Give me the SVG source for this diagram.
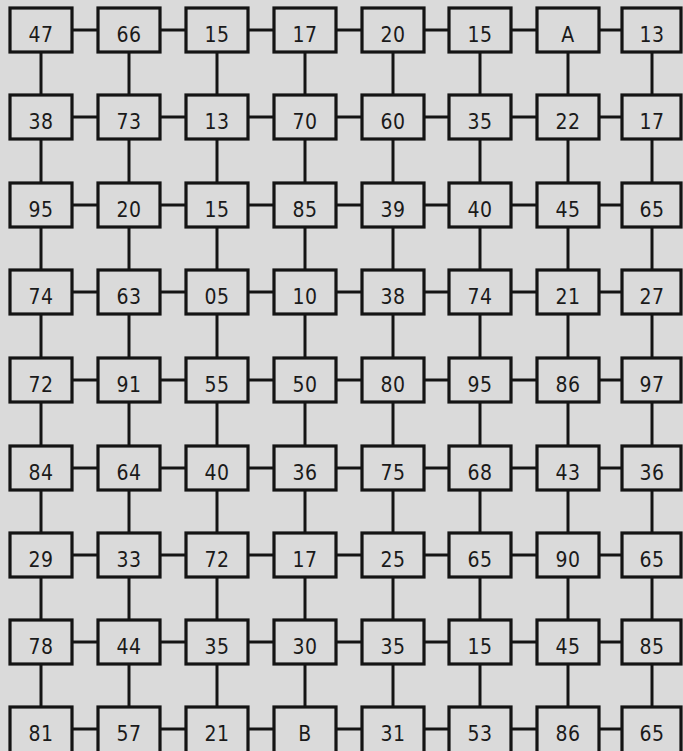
<svg xmlns="http://www.w3.org/2000/svg" width="683" height="751" viewBox="0 0 683 751">
<style>
.bg{fill:#dadada}
.box{fill:#dadada;stroke:#141414;stroke-width:3.2}
.c{stroke:#141414;stroke-width:3}
.t{font-family:'DejaVu Sans Condensed','DejaVu Sans',sans-serif;font-stretch:condensed;font-size:21px;letter-spacing:0.5px;fill:#1a1a1a;text-anchor:middle}
</style>
<rect class="bg" x="0" y="0" width="683" height="751"/>
<g id="connectors" fill="none">
<path class="c" d="M72,30H98M160,30H186M248,30H274M336,30H362M424,30H449M511,30H537M599,30H622
M72,117H98M160,117H186M248,117H274M336,117H362M424,117H449M511,117H537M599,117H622
M72,205H98M160,205H186M248,205H274M336,205H362M424,205H449M511,205H537M599,205H622
M72,292H98M160,292H186M248,292H274M336,292H362M424,292H449M511,292H537M599,292H622
M72,380H98M160,380H186M248,380H274M336,380H362M424,380H449M511,380H537M599,380H622
M72,468H98M160,468H186M248,468H274M336,468H362M424,468H449M511,468H537M599,468H622
M72,555H98M160,555H186M248,555H274M336,555H362M424,555H449M511,555H537M599,555H622
M72,642H98M160,642H186M248,642H274M336,642H362M424,642H449M511,642H537M599,642H622
M72,729H98M160,729H186M248,729H274M336,729H362M424,729H449M511,729H537M599,729H622"/>
<path class="c" d="M41,52V95M41,139V183M41,227V270M41,314V358M41,402V446M41,490V533M41,577V620M41,664V707
M129,52V95M129,139V183M129,227V270M129,314V358M129,402V446M129,490V533M129,577V620M129,664V707
M217,52V95M217,139V183M217,227V270M217,314V358M217,402V446M217,490V533M217,577V620M217,664V707
M305,52V95M305,139V183M305,227V270M305,314V358M305,402V446M305,490V533M305,577V620M305,664V707
M393,52V95M393,139V183M393,227V270M393,314V358M393,402V446M393,490V533M393,577V620M393,664V707
M480,52V95M480,139V183M480,227V270M480,314V358M480,402V446M480,490V533M480,577V620M480,664V707
M568,52V95M568,139V183M568,227V270M568,314V358M568,402V446M568,490V533M568,577V620M568,664V707
M652,52V95M652,139V183M652,227V270M652,314V358M652,402V446M652,490V533M652,577V620M652,664V707"/>
</g>
<g id="nodes">
<g id="n-1-1"><rect class="box" x="10" y="8" width="62" height="44"/><text class="t" x="41" y="42">47</text></g>
<g id="n-1-2"><rect class="box" x="98" y="8" width="62" height="44"/><text class="t" x="129" y="42">66</text></g>
<g id="n-1-3"><rect class="box" x="186" y="8" width="62" height="44"/><text class="t" x="217" y="42">15</text></g>
<g id="n-1-4"><rect class="box" x="274" y="8" width="62" height="44"/><text class="t" x="305" y="42">17</text></g>
<g id="n-1-5"><rect class="box" x="362" y="8" width="62" height="44"/><text class="t" x="393" y="42">20</text></g>
<g id="n-1-6"><rect class="box" x="449" y="8" width="62" height="44"/><text class="t" x="480" y="42">15</text></g>
<g id="n-1-7"><rect class="box" x="537" y="8" width="62" height="44"/><text class="t" x="568" y="42">A</text></g>
<g id="n-1-8"><rect class="box" x="622" y="8" width="59" height="44"/><text class="t" x="652" y="42">13</text></g>

<g id="n-2-1"><rect class="box" x="10" y="95" width="62" height="44"/><text class="t" x="41" y="129">38</text></g>
<g id="n-2-2"><rect class="box" x="98" y="95" width="62" height="44"/><text class="t" x="129" y="129">73</text></g>
<g id="n-2-3"><rect class="box" x="186" y="95" width="62" height="44"/><text class="t" x="217" y="129">13</text></g>
<g id="n-2-4"><rect class="box" x="274" y="95" width="62" height="44"/><text class="t" x="305" y="129">70</text></g>
<g id="n-2-5"><rect class="box" x="362" y="95" width="62" height="44"/><text class="t" x="393" y="129">60</text></g>
<g id="n-2-6"><rect class="box" x="449" y="95" width="62" height="44"/><text class="t" x="480" y="129">35</text></g>
<g id="n-2-7"><rect class="box" x="537" y="95" width="62" height="44"/><text class="t" x="568" y="129">22</text></g>
<g id="n-2-8"><rect class="box" x="622" y="95" width="59" height="44"/><text class="t" x="652" y="129">17</text></g>

<g id="n-3-1"><rect class="box" x="10" y="183" width="62" height="44"/><text class="t" x="41" y="217">95</text></g>
<g id="n-3-2"><rect class="box" x="98" y="183" width="62" height="44"/><text class="t" x="129" y="217">20</text></g>
<g id="n-3-3"><rect class="box" x="186" y="183" width="62" height="44"/><text class="t" x="217" y="217">15</text></g>
<g id="n-3-4"><rect class="box" x="274" y="183" width="62" height="44"/><text class="t" x="305" y="217">85</text></g>
<g id="n-3-5"><rect class="box" x="362" y="183" width="62" height="44"/><text class="t" x="393" y="217">39</text></g>
<g id="n-3-6"><rect class="box" x="449" y="183" width="62" height="44"/><text class="t" x="480" y="217">40</text></g>
<g id="n-3-7"><rect class="box" x="537" y="183" width="62" height="44"/><text class="t" x="568" y="217">45</text></g>
<g id="n-3-8"><rect class="box" x="622" y="183" width="59" height="44"/><text class="t" x="652" y="217">65</text></g>

<g id="n-4-1"><rect class="box" x="10" y="270" width="62" height="44"/><text class="t" x="41" y="304">74</text></g>
<g id="n-4-2"><rect class="box" x="98" y="270" width="62" height="44"/><text class="t" x="129" y="304">63</text></g>
<g id="n-4-3"><rect class="box" x="186" y="270" width="62" height="44"/><text class="t" x="217" y="304">05</text></g>
<g id="n-4-4"><rect class="box" x="274" y="270" width="62" height="44"/><text class="t" x="305" y="304">10</text></g>
<g id="n-4-5"><rect class="box" x="362" y="270" width="62" height="44"/><text class="t" x="393" y="304">38</text></g>
<g id="n-4-6"><rect class="box" x="449" y="270" width="62" height="44"/><text class="t" x="480" y="304">74</text></g>
<g id="n-4-7"><rect class="box" x="537" y="270" width="62" height="44"/><text class="t" x="568" y="304">21</text></g>
<g id="n-4-8"><rect class="box" x="622" y="270" width="59" height="44"/><text class="t" x="652" y="304">27</text></g>

<g id="n-5-1"><rect class="box" x="10" y="358" width="62" height="44"/><text class="t" x="41" y="392">72</text></g>
<g id="n-5-2"><rect class="box" x="98" y="358" width="62" height="44"/><text class="t" x="129" y="392">91</text></g>
<g id="n-5-3"><rect class="box" x="186" y="358" width="62" height="44"/><text class="t" x="217" y="392">55</text></g>
<g id="n-5-4"><rect class="box" x="274" y="358" width="62" height="44"/><text class="t" x="305" y="392">50</text></g>
<g id="n-5-5"><rect class="box" x="362" y="358" width="62" height="44"/><text class="t" x="393" y="392">80</text></g>
<g id="n-5-6"><rect class="box" x="449" y="358" width="62" height="44"/><text class="t" x="480" y="392">95</text></g>
<g id="n-5-7"><rect class="box" x="537" y="358" width="62" height="44"/><text class="t" x="568" y="392">86</text></g>
<g id="n-5-8"><rect class="box" x="622" y="358" width="59" height="44"/><text class="t" x="652" y="392">97</text></g>

<g id="n-6-1"><rect class="box" x="10" y="446" width="62" height="44"/><text class="t" x="41" y="480">84</text></g>
<g id="n-6-2"><rect class="box" x="98" y="446" width="62" height="44"/><text class="t" x="129" y="480">64</text></g>
<g id="n-6-3"><rect class="box" x="186" y="446" width="62" height="44"/><text class="t" x="217" y="480">40</text></g>
<g id="n-6-4"><rect class="box" x="274" y="446" width="62" height="44"/><text class="t" x="305" y="480">36</text></g>
<g id="n-6-5"><rect class="box" x="362" y="446" width="62" height="44"/><text class="t" x="393" y="480">75</text></g>
<g id="n-6-6"><rect class="box" x="449" y="446" width="62" height="44"/><text class="t" x="480" y="480">68</text></g>
<g id="n-6-7"><rect class="box" x="537" y="446" width="62" height="44"/><text class="t" x="568" y="480">43</text></g>
<g id="n-6-8"><rect class="box" x="622" y="446" width="59" height="44"/><text class="t" x="652" y="480">36</text></g>

<g id="n-7-1"><rect class="box" x="10" y="533" width="62" height="44"/><text class="t" x="41" y="567">29</text></g>
<g id="n-7-2"><rect class="box" x="98" y="533" width="62" height="44"/><text class="t" x="129" y="567">33</text></g>
<g id="n-7-3"><rect class="box" x="186" y="533" width="62" height="44"/><text class="t" x="217" y="567">72</text></g>
<g id="n-7-4"><rect class="box" x="274" y="533" width="62" height="44"/><text class="t" x="305" y="567">17</text></g>
<g id="n-7-5"><rect class="box" x="362" y="533" width="62" height="44"/><text class="t" x="393" y="567">25</text></g>
<g id="n-7-6"><rect class="box" x="449" y="533" width="62" height="44"/><text class="t" x="480" y="567">65</text></g>
<g id="n-7-7"><rect class="box" x="537" y="533" width="62" height="44"/><text class="t" x="568" y="567">90</text></g>
<g id="n-7-8"><rect class="box" x="622" y="533" width="59" height="44"/><text class="t" x="652" y="567">65</text></g>

<g id="n-8-1"><rect class="box" x="10" y="620" width="62" height="44"/><text class="t" x="41" y="654">78</text></g>
<g id="n-8-2"><rect class="box" x="98" y="620" width="62" height="44"/><text class="t" x="129" y="654">44</text></g>
<g id="n-8-3"><rect class="box" x="186" y="620" width="62" height="44"/><text class="t" x="217" y="654">35</text></g>
<g id="n-8-4"><rect class="box" x="274" y="620" width="62" height="44"/><text class="t" x="305" y="654">30</text></g>
<g id="n-8-5"><rect class="box" x="362" y="620" width="62" height="44"/><text class="t" x="393" y="654">35</text></g>
<g id="n-8-6"><rect class="box" x="449" y="620" width="62" height="44"/><text class="t" x="480" y="654">15</text></g>
<g id="n-8-7"><rect class="box" x="537" y="620" width="62" height="44"/><text class="t" x="568" y="654">45</text></g>
<g id="n-8-8"><rect class="box" x="622" y="620" width="59" height="44"/><text class="t" x="652" y="654">85</text></g>

<g id="n-9-1"><rect class="box" x="10" y="707" width="62" height="46"/><text class="t" x="41" y="741">81</text></g>
<g id="n-9-2"><rect class="box" x="98" y="707" width="62" height="46"/><text class="t" x="129" y="741">57</text></g>
<g id="n-9-3"><rect class="box" x="186" y="707" width="62" height="46"/><text class="t" x="217" y="741">21</text></g>
<g id="n-9-4"><rect class="box" x="274" y="707" width="62" height="46"/><text class="t" x="305" y="741">B</text></g>
<g id="n-9-5"><rect class="box" x="362" y="707" width="62" height="46"/><text class="t" x="393" y="741">31</text></g>
<g id="n-9-6"><rect class="box" x="449" y="707" width="62" height="46"/><text class="t" x="480" y="741">53</text></g>
<g id="n-9-7"><rect class="box" x="537" y="707" width="62" height="46"/><text class="t" x="568" y="741">86</text></g>
<g id="n-9-8"><rect class="box" x="622" y="707" width="59" height="46"/><text class="t" x="652" y="741">65</text></g>
</g>
</svg>
